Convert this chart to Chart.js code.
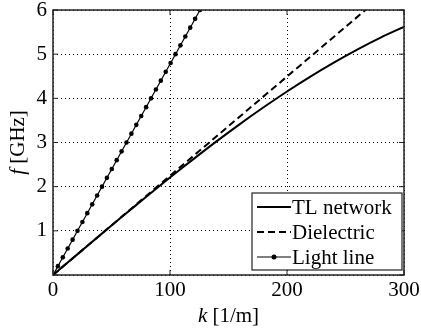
<!DOCTYPE html>
<html><head><meta charset="utf-8">
<script src="https://cdn.jsdelivr.net/npm/chart.js@4"></script>
<style>html,body{margin:0;padding:0;background:#fff}#w{width:421px;height:328px}</style>
</head><body><div id="w"><canvas id="c" width="421" height="328"></canvas></div>
<script>
const xTicks = [0, 100, 200, 300];
const yTicks = [0, 1, 2, 3, 4, 5, 6];
const yTickLabels = ["", "1", "2", "3", "4", "5", "6"];
const seriesNames = ["TL network", "Dielectric", "Light line"];
const tlK = [0, 20, 40, 60, 80, 100, 120, 140, 160, 180, 200, 220, 240, 260, 280, 300];
const tlF = [0, 0.450, 0.897, 1.341, 1.777, 2.206, 2.624, 3.031, 3.423, 3.797, 4.155, 4.493, 4.809, 5.105, 5.376, 5.619];
const dielK = [0, 300];
const dielF = [0, 6.74];
const lightK = [0, 4.19, 8.38, 12.57, 16.76, 20.94, 25.13, 29.32, 33.51, 37.70, 41.89, 46.08, 50.27, 54.45, 58.64, 62.83, 67.02, 71.21, 75.40, 79.59, 83.78, 87.96, 92.15, 96.34, 100.53, 104.72, 108.91, 113.10, 117.29, 121.48, 125.66];
const lightF = [0, 0.2, 0.4, 0.6, 0.8, 1.0, 1.2, 1.4, 1.6, 1.8, 2.0, 2.2, 2.4, 2.6, 2.8, 3.0, 3.2, 3.4, 3.6, 3.8, 4.0, 4.2, 4.4, 4.6, 4.8, 5.0, 5.2, 5.4, 5.6, 5.8, 6.0];

const pts = (xs, ys) => xs.map((x, i) => ({x: x, y: ys[i]}));
const FONT = "Liberation Serif";
const FS = 21;

const framePlugin = {
  id: 'frame',
  afterDraw(chart) {
    const ctx = chart.ctx, a = chart.chartArea;
    const xs = chart.scales.x, ys = chart.scales.y;
    ctx.save();
    ctx.strokeStyle = '#222';
    ctx.lineWidth = 1.5;
    ctx.strokeRect(a.left, a.top, a.right - a.left, a.bottom - a.top);
    ctx.lineWidth = 1;
    const L = 5;
    xTicks.forEach(v => {
      const px = xs.getPixelForValue(v);
      ctx.beginPath();
      ctx.moveTo(px, a.bottom); ctx.lineTo(px, a.bottom - L);
      ctx.moveTo(px, a.top); ctx.lineTo(px, a.top + L);
      ctx.stroke();
    });
    yTicks.forEach(v => {
      const py = ys.getPixelForValue(v);
      ctx.beginPath();
      ctx.moveTo(a.left, py); ctx.lineTo(a.left + L, py);
      ctx.moveTo(a.right, py); ctx.lineTo(a.right - L, py);
      ctx.stroke();
    });
    // axis titles
    ctx.fillStyle = '#000';
    ctx.textBaseline = 'middle';
    const fI = 'italic ' + FS + 'px "' + FONT + '"';
    const fN = FS + 'px "' + FONT + '"';
    const cx = (a.left + a.right) / 2;
    ctx.font = fI;
    const w1 = ctx.measureText('k').width;
    ctx.font = fN;
    const w2 = ctx.measureText(' [1/m]').width;
    let sx = cx - (w1 + w2) / 2;
    ctx.textAlign = 'left';
    ctx.font = fI;
    ctx.fillText('k', sx, 316);
    ctx.font = fN;
    ctx.fillText(' [1/m]', sx + w1, 316);
    ctx.save();
    ctx.translate(18, (a.top + a.bottom) / 2);
    ctx.rotate(-Math.PI / 2);
    ctx.font = fI;
    const v1 = ctx.measureText('f').width;
    ctx.font = fN;
    const v2 = ctx.measureText(' [GHz]').width;
    let sy = -(v1 + v2) / 2;
    ctx.font = fI;
    ctx.fillText('f', sy, 0);
    ctx.font = fN;
    ctx.fillText(' [GHz]', sy + v1, 0);
    ctx.restore();
    // legend
    const bx = 252, by = 193, bw = 150, bh = 77;
    ctx.fillStyle = '#fff';
    ctx.fillRect(bx, by, bw, bh);
    ctx.strokeStyle = '#222';
    ctx.lineWidth = 1.2;
    ctx.strokeRect(bx, by, bw, bh);
    const rows = [207, 232, 257];
    chart.data.datasets.forEach((ds, i) => {
      const y = rows[i];
      ctx.strokeStyle = '#000';
      ctx.lineWidth = ds.borderWidth;
      ctx.setLineDash(ds.borderDash || []);
      ctx.beginPath();
      ctx.moveTo(257, y); ctx.lineTo(291, y);
      ctx.stroke();
      ctx.setLineDash([]);
      if (ds.pointRadius > 0) {
        ctx.fillStyle = '#000';
        ctx.beginPath(); ctx.arc(274, y, 2.5, 0, Math.PI * 2); ctx.fill();
      }
      ctx.fillStyle = '#000';
      ctx.font = fN;
      ctx.textAlign = 'left';
      ctx.fillText(ds.label, 292, y + 1);
    });
    ctx.restore();
  }
};

new Chart(document.getElementById('c'), {
  type: 'scatter',
  data: {
    datasets: [
      {label: seriesNames[0], data: pts(tlK, tlF), showLine: true, borderColor: '#000', backgroundColor: '#000', borderWidth: 2, pointRadius: 0, tension: 0.3},
      {label: seriesNames[1], data: pts(dielK, dielF), showLine: true, borderColor: '#000', backgroundColor: '#000', borderWidth: 2, borderDash: [7, 4], pointRadius: 0},
      {label: seriesNames[2], data: pts(lightK, lightF), showLine: true, borderColor: '#000', backgroundColor: '#000', borderWidth: 1.2, pointRadius: 2.3, pointBorderWidth: 0}
    ]
  },
  options: {
    responsive: false,
    animation: false,
    layout: {padding: {left: 0, right: 17, top: 10, bottom: 0}},
    plugins: {legend: {display: false}, tooltip: {enabled: false}},
    scales: {
      x: {
        type: 'linear', min: 0, max: 300,
        afterFit: s => { s.height = 53; s.paddingLeft = 0; s.paddingRight = 0; },
        afterBuildTicks: s => { s.ticks = xTicks.map(v => ({value: v})); },
        ticks: {color: '#000', font: {family: FONT, size: FS}, padding: 3, maxRotation: 0},
        grid: {color: '#000', lineWidth: 1, drawTicks: false, tickLength: 0},
        border: {display: false, dash: [1, 3]}
      },
      y: {
        type: 'linear', min: 0, max: 6,
        afterFit: s => { s.width = 53; s.paddingTop = 0; s.paddingBottom = 0; },
        afterBuildTicks: s => { s.ticks = yTicks.map(v => ({value: v})); },
        ticks: {color: '#000', font: {family: FONT, size: FS}, padding: 6,
                callback: (v) => { const i = yTicks.indexOf(v); return i >= 0 ? yTickLabels[i] : ''; }},
        grid: {color: '#000', lineWidth: 1, drawTicks: false, tickLength: 0},
        border: {display: false, dash: [1, 3]}
      }
    }
  },
  plugins: [framePlugin]
});
</script></body></html>
